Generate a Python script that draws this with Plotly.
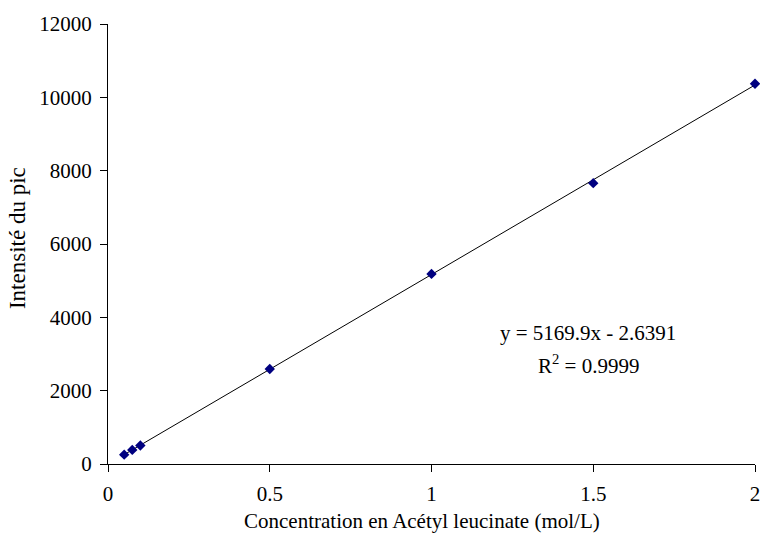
import numpy as np
import plotly.graph_objects as go

# Data
concentration = [0.05, 0.075, 0.1, 0.5, 1.0, 1.5, 2.0]
intensite = [255, 385, 505, 2590, 5185, 7660, 10370]
slope = 5169.9
intercept = -2.6391
r2 = 0.9999
x_ticks = [0, 0.5, 1, 1.5, 2]
y_ticks = [0, 2000, 4000, 6000, 8000, 10000, 12000]
x_title = "Concentration en Acétyl leucinate (mol/L)"
y_title = "Intensité du pic"

font_family = "Liberation Serif, Times New Roman, serif"

fit_x = [min(concentration), max(concentration)]
fit_y = [slope * v + intercept for v in fit_x]

fig = go.Figure()
fig.add_trace(go.Scatter(x=fit_x, y=fit_y, mode="lines", cliponaxis=False,
                         line=dict(color="black", width=1), showlegend=False, hoverinfo="skip"))
fig.add_trace(go.Scatter(x=concentration, y=intensite, mode="markers", cliponaxis=False,
                         marker=dict(symbol="diamond", color="#000080", size=8,
                                     line=dict(width=0)), showlegend=False))

fig.add_annotation(x=1.484, y=3573, xref="x", yref="y",
                   text=f"y = {slope}x - {abs(intercept)}",
                   showarrow=False, align="center",
                   font=dict(family=font_family, size=21, color="black"))
fig.add_annotation(x=1.484, y=2727, xref="x", yref="y",
                   text=f"R<sup>2</sup> = {r2}",
                   showarrow=False, align="center",
                   font=dict(family=font_family, size=21, color="black"))
# Axis titles
fig.add_annotation(x=0.485, y=-0.1295, xref="paper", yref="paper",
                   text=x_title, showarrow=False, xanchor="center", yanchor="middle",
                   font=dict(family=font_family, size=21, color="black"))
fig.add_annotation(x=-0.1406, y=0.5136, xref="paper", yref="paper",
                   text=y_title, showarrow=False, textangle=-90,
                   xanchor="center", yanchor="middle",
                   font=dict(family=font_family, size=23, color="black"))

fig.update_layout(
    width=760, height=539,
    margin=dict(l=108, r=5, t=24, b=75, autoexpand=False),
    paper_bgcolor="white", plot_bgcolor="white",
    font=dict(family=font_family, size=21, color="black"),
    xaxis=dict(range=[0, 2], tickvals=x_ticks, ticktext=[str(v) for v in x_ticks],
               showgrid=False, zeroline=False, showline=True, linecolor="black", linewidth=1,
               ticks="outside", ticklen=7, tickcolor="black", automargin=False,
               tickfont=dict(size=21), ticklabeloverflow="allow", ticklabelstandoff=4),
    yaxis=dict(range=[0, 12000], tickvals=y_ticks, ticktext=[str(v) for v in y_ticks],
               showgrid=False, zeroline=False, showline=True, linecolor="black", linewidth=1,
               ticks="outside", ticklen=7, tickcolor="black", automargin=False,
               tickfont=dict(size=21), ticklabeloverflow="allow", ticklabelstandoff=4),
)

fig.write_html("out.html", config={"displayModeBar": False},
               post_script="document.body.style.margin='0';document.body.style.overflow='hidden';")
